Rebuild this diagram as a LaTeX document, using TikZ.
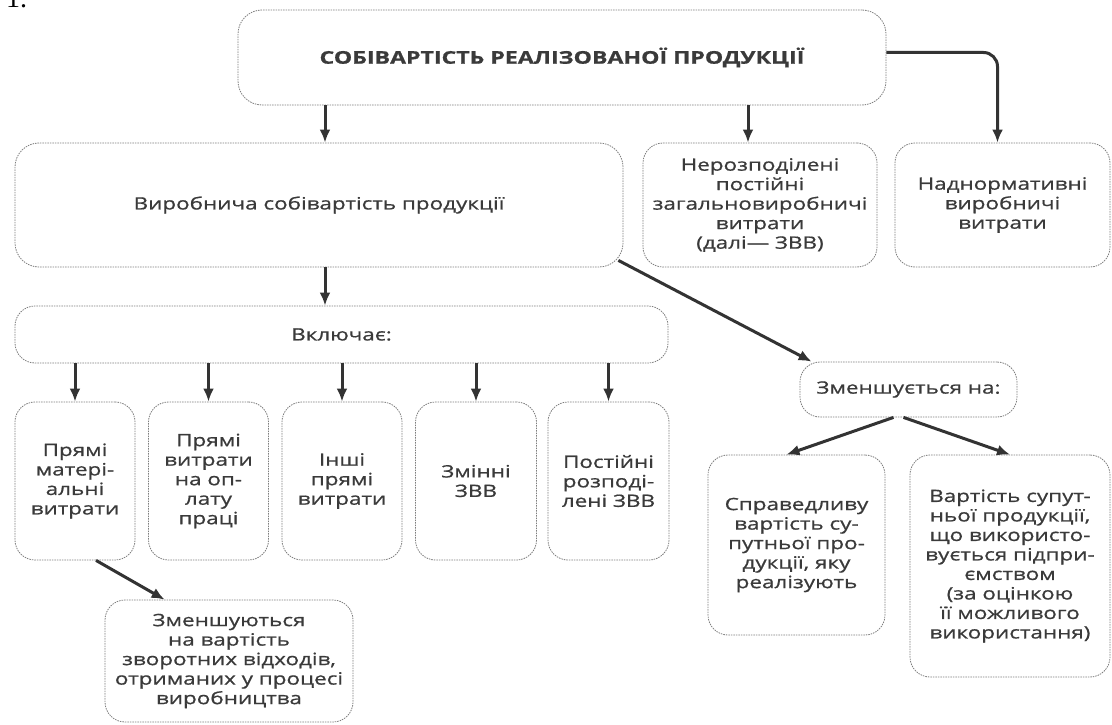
\documentclass[tikz,border=0pt]{standalone}
\usepackage{fontspec}
\setmainfont{Open Sans}[FakeStretch=1.32, FakeBold=0.8]
\newfontfamily\numfont{Liberation Serif}
\usetikzlibrary{arrows.meta, calc}
\definecolor{txtgray}{HTML}{3A3A3A}
\definecolor{linegray}{HTML}{7E7E7E}
\definecolor{arrowgray}{HTML}{333333}

\begin{document}
\begin{tikzpicture}[x=1pt, y=-1pt]

\tikzset{box/.style = {shape=rectangle, draw=linegray, dash pattern=on 1.5pt off 1pt, line width=0.8pt, rounded corners=20pt, align=center, inner sep=0pt, text=txtgray, font=\fontsize{17}{19.5}\selectfont}}
\tikzset{edge/.style = {->, > = {Latex[length=13pt, width=11pt]}, line width=3pt, draw=arrowgray}}

\useasboundingbox (0,0) rectangle (1112,725);
\node[anchor=base west, inner sep=0pt, font=\numfont\fontsize{28}{28}\selectfont] (num) at (6,8) {1.};
%boxes
\node[box, minimum width=648pt, minimum height=95pt, rounded corners=24pt, font=\bfseries\fontsize{17.5}{19.5}\selectfont] (top) at (562,57.5) {СОБІВАРТІСТЬ РЕАЛІЗОВАНОЇ ПРОДУКЦІЇ};
\node[box, minimum width=608pt, minimum height=124pt, rounded corners=24pt] (vyr) at (319,205) {Виробнича собівартість продукції};
\node[box, minimum width=234pt, minimum height=124pt] (nerozp) at (760,205) {Нерозподілені\\постійні\\загальновиробничі\\витрати\\(далі— ЗВВ)};
\node[box, minimum width=215pt, minimum height=124pt] (nadn) at (1002.5,205) {Наднормативні\\виробничі\\витрати};
\node[box, minimum width=653pt, minimum height=57pt] (vkl) at (341.5,334.5) {Включає:};
\node[box, minimum width=120pt, minimum height=158pt] (pm) at (75,481) {Прямі\\матері-\\альні\\витрати};
\node[box, minimum width=120pt, minimum height=158pt] (pv) at (208.5,481) {Прямі\\витрати\\на оп-\\лату\\праці};
\node[box, minimum width=120pt, minimum height=158pt] (ip) at (342,481) {Інші\\прямі\\витрати};
\node[box, minimum width=121pt, minimum height=158pt] (zm) at (476,481) {Змінні\\ЗВВ};
\node[box, minimum width=121pt, minimum height=158pt] (pr) at (608.5,481) {Постійні\\розподі-\\лені ЗВВ};
\node[box, minimum width=217pt, minimum height=55pt] (zmen) at (908.5,389.5) {Зменшується на:};
\node[box, minimum width=177pt, minimum height=180pt] (sprav) at (796.5,545) {Справедливу\\вартість су-\\путньої про-\\дукції, яку\\реалізують};
\node[box, minimum width=200pt, minimum height=222pt] (vart) at (1010,566) {Вартість супут-\\ньої продукції,\\що використо-\\вується підпри-\\ємством\\(за оцінкою\\її можливого\\використання)};
\node[box, minimum width=248pt, minimum height=122pt] (zmensh) at (229,661) {Зменшуються\\на вартість\\зворотних відходів,\\отриманих у процесі\\виробництва};
%arrows
\draw[edge] ([xshift=6pt]vyr.north |- top.south) -- ([xshift=6pt]vyr.north);
\draw[edge] ([xshift=-12pt]nerozp.north |- top.south) -- ([xshift=-12pt]nerozp.north);
\draw[edge, rounded corners=14pt] ([yshift=5pt]top.east) -| ([xshift=-5pt]nadn.north);
\draw[edge] ([xshift=6pt]vyr.south) -- ([xshift=6pt]vyr.south |- vkl.north);
\foreach \b in {pm, pv, ip, zm, pr}
  \draw[edge] (\b.north |- vkl.south) -- (\b.north);
\draw[edge] ($(vyr.south east)+(-5,-7)$) -- ($(zmen.north west)+(12,0)$);
\draw[edge] ($(zmen.south)+(-15,0)$) -- ($(sprav.north)+(-10,0)$);
\draw[edge] ($(zmen.south)+(-5,0)$) -- (vart.north);
\draw[edge] ($(pm.south)+(21,0)$) -- ($(zmensh.north west)+(60,0)$);

\end{tikzpicture}
\end{document}
